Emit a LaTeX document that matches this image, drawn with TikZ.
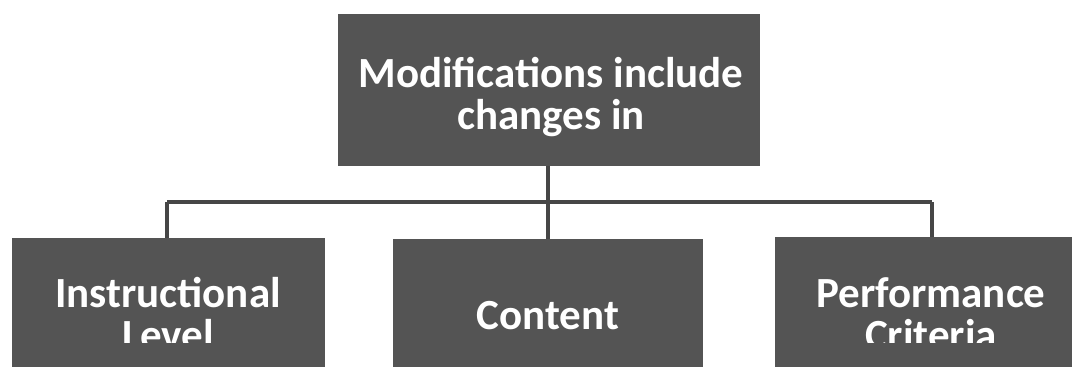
\documentclass[tikz,border=0pt]{standalone}
\usepackage{fontspec}
\setmainfont{Carlito}
\definecolor{boxfill}{RGB}{84,84,84}
\definecolor{linec}{RGB}{70,70,70}
\begin{document}
\begin{tikzpicture}[x=1pt,y=-1pt,
  box/.style={fill=boxfill,draw=none},
  lbl/.style={text=white,font=\bfseries,align=center,inner sep=0pt},
  conn/.style={draw=linec,line width=3.2pt}]
\useasboundingbox (0,0) rectangle (1072,367);
\clip (0,0) rectangle (1072,367);
% boxes
\path[box] (338,14) rectangle (760,166);
\path[box] (12,238) rectangle (325,380);
\path[box] (393,239) rectangle (703,380);
\path[box] (775,237) rectangle (1080,380);
\node[lbl,font=\bfseries\fontsize{43}{42}\selectfont] (top) at (551,97) {Modifications include\\changes in};
\coordinate (topb) at (548,166);
\coordinate (hub) at (548,202);
\coordinate (hl) at (167,202);
\coordinate (hr) at (932,202);
\coordinate (bl) at (167,238);
\coordinate (bm) at (548,239);
\coordinate (br) at (932,237);
\draw[conn] (topb) -- (hub);
\draw[conn] (hl) -- (hr);
\draw[conn] (hl) -- (bl);
\draw[conn] (hub) -- (bm);
\draw[conn] (hr) -- (br);
\begin{scope}
\clip (0,0) rectangle (1072,342);
\node[lbl,font=\bfseries\fontsize{43}{42}\selectfont] (l) at (168,314) {Instructional\\Level};
\node[lbl,font=\bfseries\fontsize{43}{42}\selectfont] (r) at (931,314) {Performance\\Criteria};
\end{scope}
\node[lbl,font=\bfseries\fontsize{43}{42}\selectfont] (m) at (548,316) {Content};
\end{tikzpicture}
\end{document}
